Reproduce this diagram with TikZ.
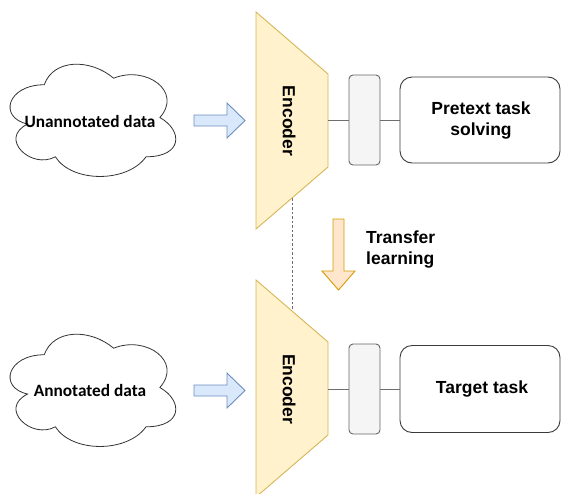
\documentclass[tikz,border=0pt]{standalone}
\usepackage{fontspec}
\setmainfont{Liberation Sans}
\newfontfamily\cloudfont{Carlito}
\definecolor{encfill}{HTML}{FFF2CC}
\definecolor{encline}{HTML}{D6B656}
\definecolor{featfill}{HTML}{F5F5F5}
\definecolor{featline}{HTML}{666666}
\definecolor{bluefill}{HTML}{DAE8FC}
\definecolor{blueline}{HTML}{6C8EBF}
\definecolor{orfill}{HTML}{FFE6CC}
\definecolor{orline}{HTML}{D79B00}
\definecolor{taskline}{HTML}{3A3A3A}
\definecolor{wire}{HTML}{6E6E6E}
\tikzset{
  lbl/.style={font=\bfseries\fontsize{17.5}{21}\selectfont, text=black, align=center, inner sep=0pt},
  cloudlbl/.style={font=\cloudfont\bfseries\fontsize{17.3}{20}\selectfont, text=black, inner sep=0pt},
  encshape/.style={fill=encfill, draw=encline, line width=0.9pt, line join=miter},
  featbox/.style={draw=featline, fill=featfill, line width=0.9pt, rounded corners=4pt,
    minimum width=31pt, minimum height=90pt, inner sep=0pt},
  taskbox/.style={draw=taskline, fill=white, line width=0.9pt, rounded corners=12pt,
    minimum width=160pt, minimum height=86pt, inner sep=0pt},
  wireline/.style={draw=wire, line width=0.9pt},
  bluearrow/.style={fill=bluefill, draw=blueline, line width=0.9pt, line join=miter},
  orarrow/.style={fill=orfill, draw=orline, line width=0.9pt, line join=miter},
  cloudline/.style={draw=black!80, fill=white, line width=0.8pt},
  cloudpic/.pic={
    \path[cloudline] (0.25,0.25) .. controls (0.05,0.25) and (0,0.5) .. (0.16,0.55)
      .. controls (0,0.66) and (0.18,0.9) .. (0.31,0.8)
      .. controls (0.4,1) and (0.7,1) .. (0.8,0.8)
      .. controls (1,0.8) and (1,0.6) .. (0.875,0.5)
      .. controls (1,0.3) and (0.8,0.1) .. (0.625,0.2)
      .. controls (0.5,0.05) and (0.3,0.05) .. (0.25,0.25) -- cycle;
  }
}
\begin{document}
\begin{tikzpicture}[x=1pt, y=-1pt]
\useasboundingbox (0,0) rectangle (561,493);

% data clouds
\begin{scope}[shift={(-2,52)}, x=185pt, y=-131pt]
  \pic {cloudpic};
\end{scope}
\begin{scope}[shift={(-2,322)}, x=185pt, y=-131pt]
  \pic {cloudpic};
\end{scope}
\node[cloudlbl] (unann) at (90,121) {Unannotated data};
\node[cloudlbl] (ann) at (90,390) {Annotated data};

% input arrows into the encoders
\path[bluearrow] (194,115) -- (227,115) -- (227,103) -- (245,120.5) -- (227,138) -- (227,126) -- (194,126) -- cycle;
\path[bluearrow] (194,385) -- (227,385) -- (227,373) -- (245,390.5) -- (227,408) -- (227,396) -- (194,396) -- cycle;

% encoder corners
\coordinate (e1a) at (256,12);
\coordinate (e1b) at (328,74);
\coordinate (e1c) at (328,167);
\coordinate (e1d) at (256,229);
\coordinate (e2a) at (256,280);
\coordinate (e2b) at (328,342);
\coordinate (e2c) at (328,435);
\coordinate (e2d) at (256,497);
\coordinate (e1out) at (328,120);
\coordinate (e2out) at (328,389);
\coordinate (share1) at (292,198);
\coordinate (share2) at (292,310);

% shared weights between the two encoders
\draw[draw=wire, line width=1pt, dash pattern=on 2.5pt off 2pt] (share1) -- (share2);

% encoders
\path[encshape] (e1a) -- (e1b) -- (e1c) -- (e1d) -- cycle;
\path[encshape] (e2a) -- (e2b) -- (e2c) -- (e2d) -- cycle;
\node[lbl, rotate=-90] (enc1) at (289,121) {Encoder};
\node[lbl, rotate=-90] (enc2) at (289,389) {Encoder};

% feature blocks and task heads
\node[featbox] (feat1) at (364.5,120) {};
\node[featbox] (feat2) at (364.5,389) {};
\node[taskbox] (task1) at (480,120) {};
\node[lbl] (task1txt) at (481,120.5) {Pretext task\\solving};
\node[taskbox, minimum height=87pt] (task2) at (480,389) {};
\node[lbl] (task2txt) at (482,389) {Target task};

\draw[wireline] (e1out) -- (feat1.west);
\draw[wireline] (feat1.east) -- (task1.west);
\draw[wireline] (e2out) -- (feat2.west);
\draw[wireline] (feat2.east) -- (task2.west);

% transfer of the learned encoder
\path[orarrow] (333,219) -- (344,219) -- (344,271) -- (355,271) -- (338.5,290) -- (322,271) -- (333,271) -- cycle;
\node[lbl, align=left, anchor=west] (transfer) at (366,250) {Transfer\\learning};
\end{tikzpicture}
\end{document}
